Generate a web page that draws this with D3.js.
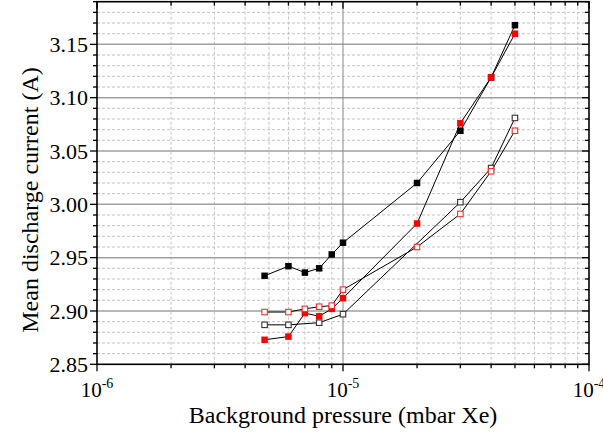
<!DOCTYPE html>
<html>
<head>
<meta charset="utf-8">
<script src="https://cdn.jsdelivr.net/npm/d3@7"></script>
<style>
  html, body { margin: 0; padding: 0; background: #fff; }
  svg { display: block; }
  text { font-family: "Liberation Serif", "Times New Roman", serif; fill: #000; }
</style>
</head>
<body>
<svg id="chart" width="603" height="434"></svg>
<script>
// ---- data ----
const pressure = [4.8e-6, 6e-6, 7e-6, 8e-6, 9e-6, 1e-5, 2e-5, 3e-5, 4e-5, 5e-5];
const blackFilled = [2.933, 2.942, 2.936, 2.940, 2.953, 2.964, 3.020, 3.069, 3.119, 3.168];
const redFilled   = [2.873, 2.876, 2.898, 2.895, 2.902, 2.912, 2.982, 3.076, 3.119, 3.160];
const blackOpen   = [2.887, 2.887, null, 2.889, null, 2.897, null, 3.002, 3.034, 3.081];
const redOpen     = [2.899, 2.899, 2.902, 2.904, 2.905, 2.920, 2.960, 2.991, 3.031, 3.069];
const yTickValues = [2.85, 2.90, 2.95, 3.00, 3.05, 3.10, 3.15];
const yTickLabels = ["2.85", "2.90", "2.95", "3.00", "3.05", "3.10", "3.15"];
const xTickValues = [1e-6, 1e-5, 1e-4];
const xTickExponents = ["-6", "-5", "-4"];
const xTitle = "Background pressure (mbar Xe)";
const yTitle = "Mean discharge current (A)";

// ---- layout ----
const svg = d3.select("#chart");
const L = 97, R = 589, T = 1.7, B = 364.3;
const x = d3.scaleLog().domain([1e-6, 1e-4]).range([L, R]);
const y = d3.scaleLinear().domain([2.85, 3.19]).range([B, T]);

// minor values
const xMinor = [];
[1e-6, 1e-5].forEach(d => { for (let k = 2; k <= 9; k++) xMinor.push(d * k); });
const yMinor = d3.range(0, 35).map(i => +(2.85 + i * 0.01).toFixed(2))
  .filter(v => !yTickValues.some(t => Math.abs(t - v) < 1e-6));

const grid = svg.append("g");
// minor dashed gridlines
grid.selectAll(".ymin").data(yMinor).enter().append("line")
  .attr("x1", L).attr("x2", R).attr("y1", d => y(d)).attr("y2", d => y(d))
  .attr("stroke", "#c4c4c4").attr("stroke-width", 1).attr("stroke-dasharray", "3,2");
grid.selectAll(".xmin").data(xMinor).enter().append("line")
  .attr("y1", T).attr("y2", B).attr("x1", d => x(d)).attr("x2", d => x(d))
  .attr("stroke", "#c4c4c4").attr("stroke-width", 1).attr("stroke-dasharray", "3,2");
// major gridlines
grid.selectAll(".ymaj").data(yTickValues.slice(1)).enter().append("line")
  .attr("x1", L).attr("x2", R).attr("y1", d => y(d)).attr("y2", d => y(d))
  .attr("stroke", "#a0a0a0").attr("stroke-width", 1.5);
grid.append("line")
  .attr("y1", T).attr("y2", B).attr("x1", x(1e-5)).attr("x2", x(1e-5))
  .attr("stroke", "#8a8a8a").attr("stroke-width", 1);

// ---- series ----
function drawSeries(vals, color, filled) {
  const pts = pressure.map((p, i) => ({ p, v: vals[i] })).filter(d => d.v !== null);
  const line = d3.line().x(d => x(d.p)).y(d => y(d.v));
  svg.append("path").datum(pts).attr("d", line)
    .attr("fill", "none").attr("stroke", "#000").attr("stroke-width", 1);
  return pts;
}
function drawMarkers(pts, color, filled) {
  const s = filled ? 6.5 : 5.5;
  svg.append("g").selectAll("rect").data(pts).enter().append("rect")
    .attr("x", d => x(d.p) - s / 2).attr("y", d => y(d.v) - s / 2)
    .attr("width", s).attr("height", s)
    .attr("fill", filled ? color : "#fff")
    .attr("stroke", filled ? "none" : color)
    .attr("stroke-width", filled ? 0 : 1.1);
}
const series = [
  [blackFilled, "#000", true],
  [blackOpen, "#333", false],
  [redFilled, "#ff0000", true],
  [redOpen, "#ff2a2a", false]
];
series.forEach(s => { s.push(drawSeries(s[0])); });
series.forEach(s => drawMarkers(s[3], s[1], s[2]));

// ---- frame and ticks ----
const ax = svg.append("g");
ax.append("rect").attr("x", L).attr("y", T).attr("width", R - L).attr("height", B - T)
  .attr("fill", "none").attr("stroke", "#000").attr("stroke-width", 1.6);

const yAll = yTickValues.map(v => ({ v, major: true })).concat(yMinor.map(v => ({ v, major: false })));
// left ticks (outward)
ax.selectAll(".lt").data(yAll).enter().append("line")
  .attr("x1", d => L - (d.major ? 7 : 4)).attr("x2", L)
  .attr("y1", d => y(d.v)).attr("y2", d => y(d.v))
  .attr("stroke", "#000").attr("stroke-width", 1.3);
// right ticks (inward)
ax.selectAll(".rt").data(yAll).enter().append("line")
  .attr("x1", d => R - (d.major ? 7 : 4)).attr("x2", R)
  .attr("y1", d => y(d.v)).attr("y2", d => y(d.v))
  .attr("stroke", "#000").attr("stroke-width", 1.3);

const xAll = xTickValues.map(v => ({ v, major: true })).concat(xMinor.map(v => ({ v, major: false })));
// bottom ticks (outward)
ax.selectAll(".bt").data(xAll).enter().append("line")
  .attr("y1", B).attr("y2", d => B + (d.major ? 7 : 4))
  .attr("x1", d => x(d.v)).attr("x2", d => x(d.v))
  .attr("stroke", "#000").attr("stroke-width", 1.3);
// top ticks (inward)
ax.selectAll(".tt").data(xAll).enter().append("line")
  .attr("y1", T).attr("y2", d => T + (d.major ? 7 : 4))
  .attr("x1", d => x(d.v)).attr("x2", d => x(d.v))
  .attr("stroke", "#000").attr("stroke-width", 1.3);

// y tick labels
ax.selectAll(".yl").data(yTickValues).enter().append("text")
  .attr("x", L - 9).attr("y", d => y(d)).attr("dy", "0.35em")
  .attr("text-anchor", "end").attr("font-size", 22)
  .text((d, i) => yTickLabels[i]);

// x tick labels
xTickValues.forEach((v, i) => {
  const t = ax.append("text").attr("x", x(v)).attr("y", 397)
    .attr("text-anchor", "middle").attr("font-size", 21);
  t.append("tspan").text("10");
  t.append("tspan").attr("dy", -9).attr("font-size", 14).text(xTickExponents[i]);
});

// titles
svg.append("text").attr("x", (L + R) / 2).attr("y", 423)
  .attr("text-anchor", "middle").attr("font-size", 24).text(xTitle);
svg.append("text").attr("transform", "translate(38,200) rotate(-90)")
  .attr("text-anchor", "middle").attr("font-size", 24).text(yTitle);
</script>
</body>
</html>
